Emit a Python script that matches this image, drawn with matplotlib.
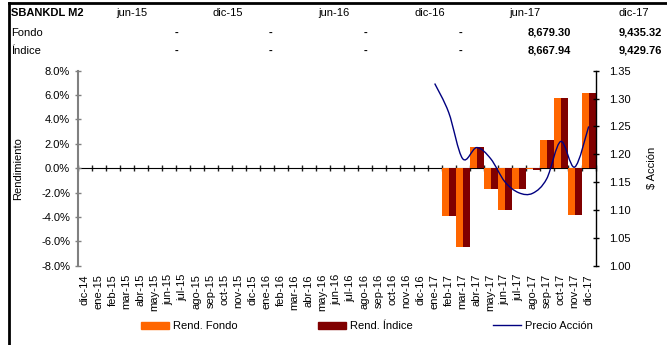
import matplotlib
matplotlib.use("Agg")
import matplotlib.pyplot as plt
import numpy as np
from matplotlib.lines import Line2D
from matplotlib.patches import Patch
from matplotlib.path import Path
from matplotlib.patches import PathPatch

plt.rcParams['font.family'] = ['Liberation Sans', 'DejaVu Sans']

# meses del eje x
meses = ['dic-14', 'ene-15', 'feb-15', 'mar-15', 'abr-15', 'may-15', 'jun-15',
         'jul-15', 'ago-15', 'sep-15', 'oct-15', 'nov-15', 'dic-15', 'ene-16',
         'feb-16', 'mar-16', 'abr-16', 'may-16', 'jun-16', 'jul-16', 'ago-16',
         'sep-16', 'oct-16', 'nov-16', 'dic-16', 'ene-17', 'feb-17', 'mar-17',
         'abr-17', 'may-17', 'jun-17', 'jul-17', 'ago-17', 'sep-17', 'oct-17',
         'nov-17', 'dic-17']

# rendimientos mensuales (%) feb-17 .. dic-17
meses_rend = ['feb-17', 'mar-17', 'abr-17', 'may-17', 'jun-17', 'jul-17',
              'ago-17', 'sep-17', 'oct-17', 'nov-17', 'dic-17']
rend_fondo  = [-3.9, -6.5, 1.7, -1.7, -3.4, -1.7, -0.10, 2.3, 5.8, -3.8, 6.2]
rend_indice = [-3.9, -6.5, 1.7, -1.7, -3.4, -1.7, -0.15, 2.3, 5.8, -3.8, 6.2]

# precio de la accion ene-17 .. dic-17
meses_precio = ['ene-17', 'feb-17', 'mar-17', 'abr-17', 'may-17', 'jun-17',
                'jul-17', 'ago-17', 'sep-17', 'oct-17', 'nov-17', 'dic-17']
precio = [1.327, 1.275, 1.192, 1.212, 1.192, 1.151, 1.131, 1.130, 1.156,
          1.223, 1.177, 1.250]

# tabla superior
tabla_cols   = ['jun-15', 'dic-15', 'jun-16', 'dic-16', 'jun-17', 'dic-17']
tabla_fondo  = ['-', '-', '-', '-', '8,679.30', '9,435.32']
tabla_indice = ['-', '-', '-', '-', '8,667.94', '9,429.76']

W, H = 667, 345
fig = plt.figure(figsize=(W / 100, H / 100), dpi=100)
fs = 8

def fx(px):
    return px / W

def fy(py):
    return 1 - py / H

# marco (solo borde superior e izquierdo visibles)
fig.add_artist(Line2D([fx(9), 1], [fy(2.5), fy(2.5)], transform=fig.transFigure,
                      color='black', lw=2))
fig.add_artist(Line2D([fx(9), fx(9)], [fy(2.5), 0], transform=fig.transFigure,
                      color='black', lw=2))

# tabla
row_y = [fy(13.5), fy(32.5), fy(50.5)]
fig.text(fx(11), row_y[0], 'SBANKDL M2', fontsize=fs, fontweight='bold', va='center')
fig.text(fx(11), row_y[1], 'Fondo', fontsize=fs, va='center')
fig.text(fx(11), row_y[2], 'Índice', fontsize=fs, va='center')
col_hdr_x = [132, 228, 334, 430, 525, 634]
val_right_x = [178, 272, 367, 462, 571, 662]
for c, xh, xr, vf, vi in zip(tabla_cols, col_hdr_x, val_right_x, tabla_fondo, tabla_indice):
    fig.text(fx(xh), row_y[0], c, fontsize=fs, ha='center', va='center')
    for v, yy in ((vf, row_y[1]), (vi, row_y[2])):
        fig.text(fx(xr), yy, v, fontsize=fs, ha='right', va='center',
                 fontweight='bold')

# ejes del grafico
ax = fig.add_axes([fx(77.7), fy(265.7), fx(595.7) - fx(77.7), fy(70.7) - fy(265.7)])
x = np.arange(len(meses))
xr = np.array([meses.index(m) for m in meses_rend])
ax.bar(xr - 0.25, rend_fondo, width=0.5, color='#FF6600', zorder=2)
ax.bar(xr + 0.25, rend_indice, width=0.5, color='#800000', zorder=2)

ax.set_xlim(-0.5, len(meses) - 0.5)
ax.set_ylim(-8, 8)
ax.set_yticks(np.arange(-8, 8.1, 2))
ax.set_yticklabels([f'{v:.1f}%' for v in np.arange(-8, 8.1, 2)], fontsize=fs)
ax.set_xticks(x)
ax.set_xticklabels(meses, rotation=90, fontsize=fs)
ax.tick_params(axis='x', length=0, pad=6)
ax.tick_params(axis='y', direction='inout', length=5, width=1, color='#808080', pad=3)
for s in ('top', 'right', 'bottom'):
    ax.spines[s].set_visible(False)
ax.spines['left'].set_color('#808080')
ax.spines['left'].set_linewidth(1.5)
ax.set_ylabel('Rendimiento', fontsize=fs, labelpad=13)

# linea de cero con marcas entre categorias
cero = ax.secondary_xaxis(0.5)
bordes = np.arange(-0.5, len(meses), 1.0)
cero.set_xticks(bordes, labels=[''] * len(bordes))
cero.tick_params(axis='x', direction='inout', length=5, width=1, color='#202020',
                 labelbottom=False, labeltop=False)
cero.spines['bottom'].set_color('#808080')
cero.spines['bottom'].set_linewidth(2)

# precio de la accion (linea suavizada)
ax2 = ax.twinx()
ax2.set_ylim(1.0, 1.35)
ax2.set_yticks(np.arange(1.0, 1.351, 0.05))
ax2.set_yticklabels([f'{v:.2f}' for v in np.arange(1.0, 1.351, 0.05)], fontsize=fs)
ax2.tick_params(axis='y', direction='inout', length=5, width=1, pad=7)
for s in ('top', 'left', 'bottom'):
    ax2.spines[s].set_visible(False)
ax2.spines['right'].set_linewidth(1)
ax2.set_ylabel('$ Acción', fontsize=fs, labelpad=12)

xp = np.array([meses.index(m) for m in meses_precio], dtype=float)
pts = np.column_stack([xp, precio])
verts = [pts[0]]
codes = [Path.MOVETO]
n = len(pts)
for i in range(n - 1):
    p0 = pts[max(i - 1, 0)]
    p1 = pts[i]
    p2 = pts[i + 1]
    p3 = pts[min(i + 2, n - 1)]
    verts += [p1 + (p2 - p0) / 6, p2 - (p3 - p1) / 6, p2]
    codes += [Path.CURVE4] * 3
ax2.add_patch(PathPatch(Path(verts, codes), facecolor='none', edgecolor='#000080',
                        lw=1, zorder=3))

# leyenda
handles = [Patch(color='#FF6600'), Patch(color='#800000'),
           Line2D([], [], color='#000080', lw=1)]
labels = ['Rend. Fondo', 'Rend. Índice', 'Precio Acción']
fig.legend(handles, labels, loc='center', bbox_to_anchor=(fx(367), fy(326)),
           ncol=3, frameon=False, fontsize=fs, handlelength=2.5, handleheight=0.6,
           columnspacing=7.2, handletextpad=0.4)

fig.savefig('out.png', dpi=100)
